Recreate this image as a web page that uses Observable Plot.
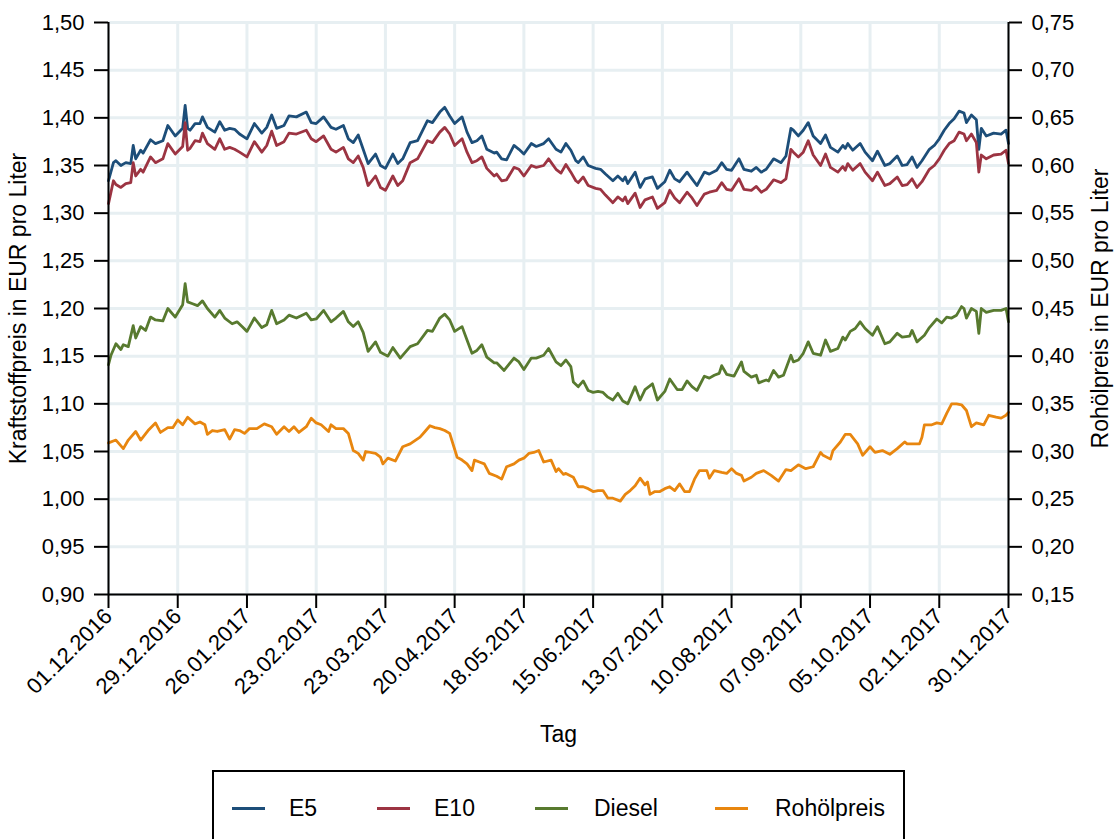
<!DOCTYPE html>
<html><head><meta charset="utf-8">
<script src="https://cdn.jsdelivr.net/npm/d3@7"></script>
<script src="https://cdn.jsdelivr.net/npm/@observablehq/plot@0.6"></script>
<style>
body{margin:0;background:#fff;font-family:"Liberation Sans",Arial,sans-serif;}
#wrap{position:relative;width:1118px;height:839px;overflow:hidden;}
#legend{position:absolute;left:212px;top:770px;width:693px;height:110px;border:2px solid #000;box-sizing:border-box;}
.sw{position:absolute;top:35px;width:33px;height:3px;}
.lb{position:absolute;top:22px;font-size:23px;line-height:28px;color:#000;}
</style></head>
<body><div id="wrap"><div id="chart"></div><div id="legend"></div></div>
<script>
// Day offsets from 01.12.2016 and prices (EUR per litre)
const fuelDays = [0,2,3,5,7,9,10,11,13,14,17,19,22,24,27,30,31,32,33,35,37,38,40,43,45,47,49,51,53,56,59,62,64,66,68,71,73,76,80,82,84,87,
90,92,95,97,99,101,103,105,108,110,112,115,117,119,122,125,129,131,134,136,138,140,143,145,147,149,151,153,156,157,159,161,164,166,168,171,173,176,178,181,
183,185,187,189,190,192,194,197,199,201,204,206,208,209,210,213,215,217,220,222,225,227,229,231,234,236,238,241,243,246,248,250,252,255,257,260,262,264,266,269,272,274,
276,277,279,281,283,285,288,290,292,295,297,298,299,301,304,306,309,311,314,316,319,321,323,325,327,329,332,334,336,338,340,342,344,346,347,349,351,352,353,355,358,361,363,364];
const e5 = [1.334,1.353,1.355,1.350,1.353,1.352,1.371,1.357,1.366,1.363,1.377,1.373,1.376,1.392,1.381,1.389,1.413,1.389,1.387,1.394,1.394,1.401,1.390,1.385,1.396,1.387,1.389,1.388,1.383,1.378,1.394,1.384,1.390,1.403,1.389,1.392,1.402,1.401,1.406,1.395,1.394,1.401,
1.390,1.388,1.392,1.378,1.374,1.382,1.367,1.352,1.362,1.350,1.347,1.362,1.352,1.357,1.374,1.376,1.397,1.395,1.406,1.411,1.402,1.394,1.401,1.385,1.374,1.376,1.381,1.367,1.363,1.364,1.357,1.356,1.371,1.367,1.362,1.373,1.370,1.373,1.378,1.367,
1.364,1.373,1.366,1.355,1.353,1.359,1.350,1.347,1.346,1.341,1.334,1.339,1.334,1.338,1.331,1.343,1.327,1.336,1.338,1.326,1.333,1.345,1.336,1.333,1.343,1.336,1.329,1.343,1.341,1.345,1.353,1.346,1.345,1.357,1.346,1.344,1.348,1.343,1.346,1.357,1.353,1.360,
1.389,1.387,1.381,1.387,1.395,1.381,1.373,1.382,1.369,1.364,1.371,1.368,1.373,1.366,1.373,1.364,1.355,1.365,1.350,1.352,1.360,1.350,1.351,1.359,1.348,1.355,1.367,1.371,1.378,1.387,1.394,1.399,1.407,1.405,1.395,1.403,1.398,1.367,1.389,1.381,1.384,1.383,1.387,1.373];
const e10 = [1.310,1.334,1.330,1.327,1.331,1.332,1.353,1.339,1.346,1.343,1.359,1.353,1.357,1.373,1.362,1.370,1.395,1.366,1.368,1.376,1.375,1.384,1.373,1.367,1.378,1.367,1.369,1.367,1.364,1.359,1.375,1.364,1.371,1.386,1.371,1.375,1.384,1.383,1.387,1.378,1.375,1.381,
1.367,1.364,1.369,1.357,1.353,1.360,1.348,1.329,1.339,1.327,1.324,1.339,1.329,1.334,1.353,1.357,1.376,1.374,1.385,1.390,1.383,1.371,1.378,1.364,1.353,1.355,1.359,1.347,1.339,1.341,1.334,1.335,1.348,1.346,1.339,1.350,1.348,1.350,1.357,1.346,
1.342,1.351,1.343,1.334,1.332,1.338,1.329,1.326,1.325,1.319,1.311,1.317,1.313,1.317,1.310,1.321,1.306,1.314,1.317,1.305,1.311,1.324,1.316,1.311,1.322,1.316,1.308,1.320,1.322,1.324,1.332,1.325,1.324,1.336,1.325,1.324,1.328,1.322,1.325,1.335,1.332,1.336,
1.367,1.364,1.359,1.364,1.376,1.361,1.350,1.362,1.348,1.343,1.349,1.345,1.352,1.345,1.352,1.343,1.334,1.343,1.329,1.331,1.338,1.329,1.330,1.336,1.327,1.333,1.346,1.350,1.357,1.366,1.373,1.376,1.385,1.383,1.376,1.383,1.374,1.343,1.361,1.357,1.361,1.362,1.366,1.352];

const dieselDays = [0,1,3,5,6,8,10,11,13,15,17,19,22,24,27,30,31,32,34,36,38,40,43,45,47,50,52,54,56,59,62,64,66,68,71,73,76,80,82,84,87,
90,92,95,97,99,101,103,105,108,110,113,115,118,122,125,129,131,134,136,138,140,143,145,147,149,151,153,156,157,160,164,166,168,171,173,176,178,181,
183,185,187,188,190,192,194,196,198,200,202,204,206,208,210,213,215,217,220,222,225,227,230,232,234,236,238,241,243,245,247,248,250,253,256,257,260,262,263,266,267,269,271,273,
276,277,279,281,283,285,288,290,292,295,297,298,300,302,304,306,309,311,314,316,319,321,324,325,327,330,332,335,337,339,341,343,345,346,347,349,351,352,353,355,358,361,363,364];
const diesel = [1.141,1.151,1.163,1.157,1.162,1.160,1.182,1.169,1.181,1.177,1.191,1.188,1.187,1.200,1.191,1.204,1.226,1.207,1.205,1.203,1.208,1.200,1.191,1.198,1.190,1.184,1.186,1.181,1.176,1.190,1.180,1.183,1.198,1.184,1.188,1.193,1.190,1.195,1.188,1.189,1.198,
1.186,1.190,1.197,1.186,1.181,1.186,1.175,1.155,1.165,1.154,1.150,1.159,1.148,1.160,1.163,1.177,1.176,1.190,1.194,1.188,1.176,1.181,1.167,1.153,1.156,1.162,1.149,1.143,1.143,1.135,1.148,1.144,1.136,1.148,1.148,1.151,1.158,1.144,
1.140,1.146,1.139,1.123,1.118,1.124,1.114,1.112,1.113,1.112,1.107,1.104,1.111,1.103,1.100,1.118,1.104,1.115,1.121,1.104,1.113,1.126,1.115,1.115,1.124,1.118,1.114,1.129,1.127,1.130,1.132,1.140,1.131,1.129,1.144,1.134,1.128,1.130,1.122,1.125,1.124,1.135,1.128,1.130,
1.151,1.144,1.146,1.153,1.165,1.153,1.151,1.167,1.155,1.158,1.170,1.167,1.176,1.179,1.186,1.179,1.172,1.181,1.163,1.165,1.174,1.170,1.171,1.177,1.165,1.172,1.180,1.189,1.185,1.191,1.190,1.193,1.202,1.200,1.190,1.200,1.197,1.174,1.200,1.196,1.198,1.198,1.200,1.186];

const crudeDays = [0,3,6,8,11,13,16,19,21,24,26,28,30,32,35,37,39,40,42,44,47,49,51,53,55,57,60,63,66,68,71,73,75,77,80,82,84,86,89,
90,92,95,97,99,101,103,104,108,110,111,113,116,119,122,126,128,130,132,134,136,138,141,143,145,147,148,150,152,154,157,159,161,164,166,168,170,172,174,176,179,181,182,184,
185,188,190,192,194,196,198,200,202,204,207,209,211,213,215,217,218,219,221,223,225,227,229,231,233,235,237,239,242,243,245,248,250,252,254,256,257,260,262,265,268,271,274,
276,279,282,285,288,289,292,293,296,298,300,303,305,308,310,313,316,319,322,323,325,328,329,330,333,335,337,339,341,343,345,347,349,351,354,356,359,361,363,364];
const crude = [0.309,0.312,0.303,0.312,0.321,0.312,0.322,0.330,0.320,0.325,0.325,0.333,0.328,0.336,0.329,0.331,0.328,0.318,0.322,0.321,0.323,0.313,0.323,0.322,0.319,0.324,0.324,0.329,0.326,0.318,0.326,0.321,0.326,0.320,0.326,0.335,0.330,0.328,0.321,
0.328,0.324,0.324,0.319,0.301,0.298,0.291,0.300,0.298,0.294,0.287,0.293,0.290,0.305,0.308,0.315,0.321,0.327,0.325,0.324,0.322,0.319,0.294,0.291,0.287,0.280,0.291,0.289,0.287,0.277,0.274,0.271,0.284,0.287,0.291,0.293,0.298,0.299,0.301,0.289,0.291,0.279,0.282,0.276,
0.277,0.273,0.263,0.263,0.261,0.258,0.259,0.259,0.251,0.251,0.248,0.255,0.259,0.264,0.272,0.265,0.268,0.255,0.258,0.258,0.261,0.263,0.259,0.266,0.258,0.258,0.271,0.280,0.280,0.272,0.280,0.278,0.277,0.282,0.277,0.275,0.269,0.273,0.277,0.280,0.275,0.269,0.281,
0.280,0.286,0.282,0.284,0.299,0.296,0.292,0.301,0.310,0.318,0.318,0.308,0.296,0.305,0.299,0.301,0.297,0.303,0.310,0.308,0.308,0.308,0.315,0.328,0.328,0.330,0.329,0.340,0.350,0.350,0.349,0.343,0.326,0.330,0.328,0.338,0.336,0.335,0.338,0.341];

const seriesNames = ["E5","E10","Diesel","Rohölpreis"];
const seriesColors = ["#1d4e79","#9c3442","#587a2f","#e8860f"];
const leftTicks = [0.90,0.95,1.00,1.05,1.10,1.15,1.20,1.25,1.30,1.35,1.40,1.45,1.50];
const tickDays = [0,28,56,84,112,140,168,196,224,252,280,308,336,364];
const crudeOffset = 0.75; // right axis = left axis - 0.75

const start = Date.UTC(2016, 11, 1);
const toDate = d => new Date(start + d * 86400000);
const rows = [];
fuelDays.forEach((d,i) => { rows.push({s:"E5", date:toDate(d), v:e5[i]}); });
fuelDays.forEach((d,i) => { rows.push({s:"E10", date:toDate(d), v:e10[i]}); });
dieselDays.forEach((d,i) => { rows.push({s:"Diesel", date:toDate(d), v:diesel[i]}); });
crudeDays.forEach((d,i) => { rows.push({s:"Rohölpreis", date:toDate(d), v:crude[i] + crudeOffset}); });

const comma = v => v.toFixed(2).replace(".", ",");
const xTicks = tickDays.map(toDate);
const x0 = toDate(0), x1 = toDate(364);

const chart = Plot.plot({
  width: 1118, height: 770,
  marginLeft: 108, marginRight: 110, marginTop: 22, marginBottom: 176,
  style: {fontFamily: '"Liberation Sans", Arial, sans-serif', fontSize: "22px", color: "#000", background: "#fff"},
  x: {type: "utc", domain: [x0, x1]},
  y: {domain: [0.90, 1.50]},
  color: {domain: seriesNames, range: seriesColors},
  marks: [
    Plot.gridX(xTicks, {stroke: "#e7eff2", strokeOpacity: 1, strokeWidth: 3}),
    Plot.gridY(leftTicks, {stroke: "#e7eff2", strokeOpacity: 1, strokeWidth: 3}),
    Plot.line(rows, {x: "date", y: "v", z: "s", stroke: "s", strokeWidth: 2.8, curve: "linear"}),
    Plot.ruleX([x0, x1], {stroke: "#000", strokeWidth: 2}),
    Plot.ruleY([0.90], {stroke: "#000", strokeWidth: 2}),
    Plot.axisY(leftTicks, {anchor: "left", tickSize: 14, tickPadding: 10, tickFormat: comma, label: null, strokeWidth: 2, fontSize: 22}),
    Plot.axisY(leftTicks, {anchor: "right", tickSize: 13, tickPadding: 10, tickFormat: v => comma(v - crudeOffset), label: null, strokeWidth: 2, fontSize: 22}),
    Plot.axisX(xTicks, {tickSize: 14, tickPadding: 4, tickRotate: -45, tickFormat: d3.utcFormat("%d.%m.%Y"), label: null, strokeWidth: 2, fontSize: 22}),
    Plot.text(["Tag"], {frameAnchor: "bottom", dy: 147, fontSize: 23}),
    Plot.text(["Kraftstoffpreis in EUR pro Liter"], {frameAnchor: "left", dx: -90, rotate: -90, textAnchor: "middle", fontSize: 23}),
    Plot.text(["Rohölpreis in EUR pro Liter"], {frameAnchor: "right", dx: 92, rotate: -90, textAnchor: "middle", fontSize: 23})
  ]
});
document.getElementById("chart").appendChild(chart);

// Legend
const legend = document.getElementById("legend");
const swLeft = [18, 163, 321, 501];
const lbLeft = [75, 220, 380, 561];
seriesNames.forEach((n, i) => {
  const sw = document.createElement("div");
  sw.className = "sw"; sw.style.left = swLeft[i] + "px"; sw.style.background = seriesColors[i];
  legend.appendChild(sw);
  const lb = document.createElement("div");
  lb.className = "lb"; lb.style.left = lbLeft[i] + "px"; lb.textContent = n;
  legend.appendChild(lb);
});
</script>
</body></html>
